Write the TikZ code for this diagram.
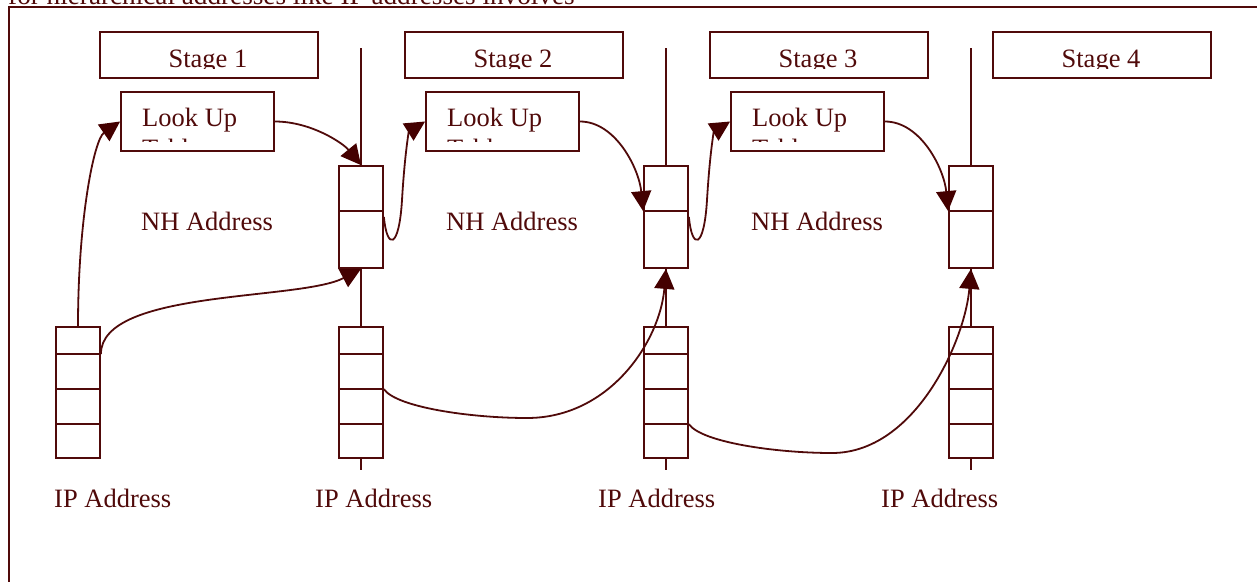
\documentclass[tikz,border=0pt]{standalone}
\usepackage{fontspec}
\setmainfont{Liberation Serif}
\usetikzlibrary{arrows.meta}
\definecolor{mar}{RGB}{80,10,10}
\definecolor{marh}{RGB}{68,0,0}
\begin{document}
\begin{tikzpicture}[x=1pt,y=-1pt,
  ln/.style={draw=mar, line width=1.8pt},
  stagebox/.style={ln, inner sep=0pt, minimum width=218pt, minimum height=46pt},
  lubox/.style={ln, inner sep=0pt, minimum width=153pt, minimum height=59pt},
  nhbox/.style={ln, inner sep=0pt, minimum width=44pt, minimum height=102pt},
  ipbox/.style={ln, inner sep=0pt, minimum width=44pt, minimum height=131pt},
  lbl/.style={text=mar, inner sep=0pt, anchor=base west, font=\fontsize{26.5}{30}\selectfont},
  conn/.style={ln, -{Triangle[length=20pt,width=20pt,color=marh]}}]
\useasboundingbox (0,0) rectangle (1257,581);

% frame (cut off at right and bottom)
\draw[ln, line width=2pt] (9,600) -- (9,7) -- (1270,7);

% clipped sentence at top
\begin{scope}
  \clip (0,0) rectangle (1257,6);
  \node[lbl, font=\fontsize{27.2}{30}\selectfont] (intro) at (8,4) {for hierarchical addresses like IP addresses involves};
\end{scope}

% stage boxes
\node[stagebox] (s1) at (209,55) {};
\node[stagebox] (s2) at (514,55) {};
\node[stagebox] (s3) at (819,55) {};
\node[stagebox] (s4) at (1102,55) {};
\begin{scope}
  \clip (0,0) rectangle (1257,68.8);
  \node[lbl, anchor=base] (st1) at (208,67.5) {Stage 1};
  \node[lbl, anchor=base] (st2) at (513,67.5) {Stage 2};
  \node[lbl, anchor=base] (st3) at (818,67.5) {Stage 3};
  \node[lbl, anchor=base] (st4) at (1101,67.5) {Stage 4};
\end{scope}

% look up boxes
\node[lubox] (lu1) at (197.5,121.5) {};
\node[lubox] (lu2) at (502.5,121.5) {};
\node[lubox] (lu3) at (807.5,121.5) {};
\begin{scope}
  \clip (0,0) rectangle (1257,141.5);
  \node[lbl] (lt1) at (142,126.7) {\vtop{\baselineskip=31pt\hbox{Look Up}\hbox{Table}}};
  \node[lbl] (lt2) at (447,126.7) {\vtop{\baselineskip=31pt\hbox{Look Up}\hbox{Table}}};
  \node[lbl] (lt3) at (752,126.7) {\vtop{\baselineskip=31pt\hbox{Look Up}\hbox{Table}}};
\end{scope}

% NH address registers
\foreach \i/\x in {2/361,3/666,4/971}{
  \node[nhbox] (nh\i) at (\x,217) {};
  \draw[ln] ([yshift=-46pt]nh\i.north west) -- ([yshift=-46pt]nh\i.north east);
}

% IP address registers
\foreach \i/\x in {1/78,2/361,3/666,4/971}{
  \node[ipbox] (ip\i) at (\x,392.5) {};
  \foreach \d in {28,63,98}{
    \draw[ln] ([yshift=-\d pt]ip\i.north west) -- ([yshift=-\d pt]ip\i.north east);
  }
}

% vertical stage lines
\foreach \i/\x in {2/361,3/666,4/971}{
  \coordinate (t\i) at (\x,48);
  \coordinate (b\i) at (\x,470);
  \draw[ln] (t\i) -- (nh\i.north);
  \draw[ln] (nh\i.south) -- (ip\i.north);
  \draw[ln] (ip\i.south) -- (b\i);
}

% labels
\node[lbl] (nhl1) at (141,230) {NH Address};
\node[lbl] (nhl2) at (446,230) {NH Address};
\node[lbl] (nhl3) at (751,230) {NH Address};
\node[lbl] (ipl1) at (54,507) {IP Address};
\node[lbl] (ipl2) at (315,507) {IP Address};
\node[lbl] (ipl3) at (598,507) {IP Address};
\node[lbl] (ipl4) at (881,507) {IP Address};

% connectors
\draw[conn] (ip1.north) .. controls +(0,-107) and +(-26,18) .. (lu1.west);
\draw[conn] (lu1.east) .. controls +(36,0) and +(-18,-22) .. (nh2.north);
\draw[conn] ([yshift=-28pt]ip1.north east) .. controls +(0,-65) and +(-61,32) .. (nh2.south);

\coordinate (m2) at (402,200);
\coordinate (m3) at (707,200);
\draw[conn] (nh2.east) .. controls +(3,33) and +(-3,50) .. (m2) .. controls +(3,-50) and +(-16,10) .. (lu2.west);
\draw[conn] (nh3.east) .. controls +(3,33) and +(-3,50) .. (m3) .. controls +(3,-50) and +(-16,10) .. (lu3.west);

\draw[conn] (lu2.east) .. controls +(36,0) and +(-4,-42) .. ([yshift=-46pt]nh3.north west);
\draw[conn] (lu3.east) .. controls +(36,0) and +(-4,-42) .. ([yshift=-46pt]nh4.north west);

\coordinate (q2) at (527,418);
\coordinate (q3) at (832,453);
\draw[conn] ([yshift=-63pt]ip2.north east) .. controls +(12,18) and +(-57,0) .. (q2) .. controls +(83,0) and +(-6,72) .. (nh3.south);
\draw[conn] ([yshift=-98pt]ip3.north east) .. controls +(12,18) and +(-57,0) .. (q3) .. controls +(83,0) and +(-6,72) .. (nh4.south);
\end{tikzpicture}
\end{document}
